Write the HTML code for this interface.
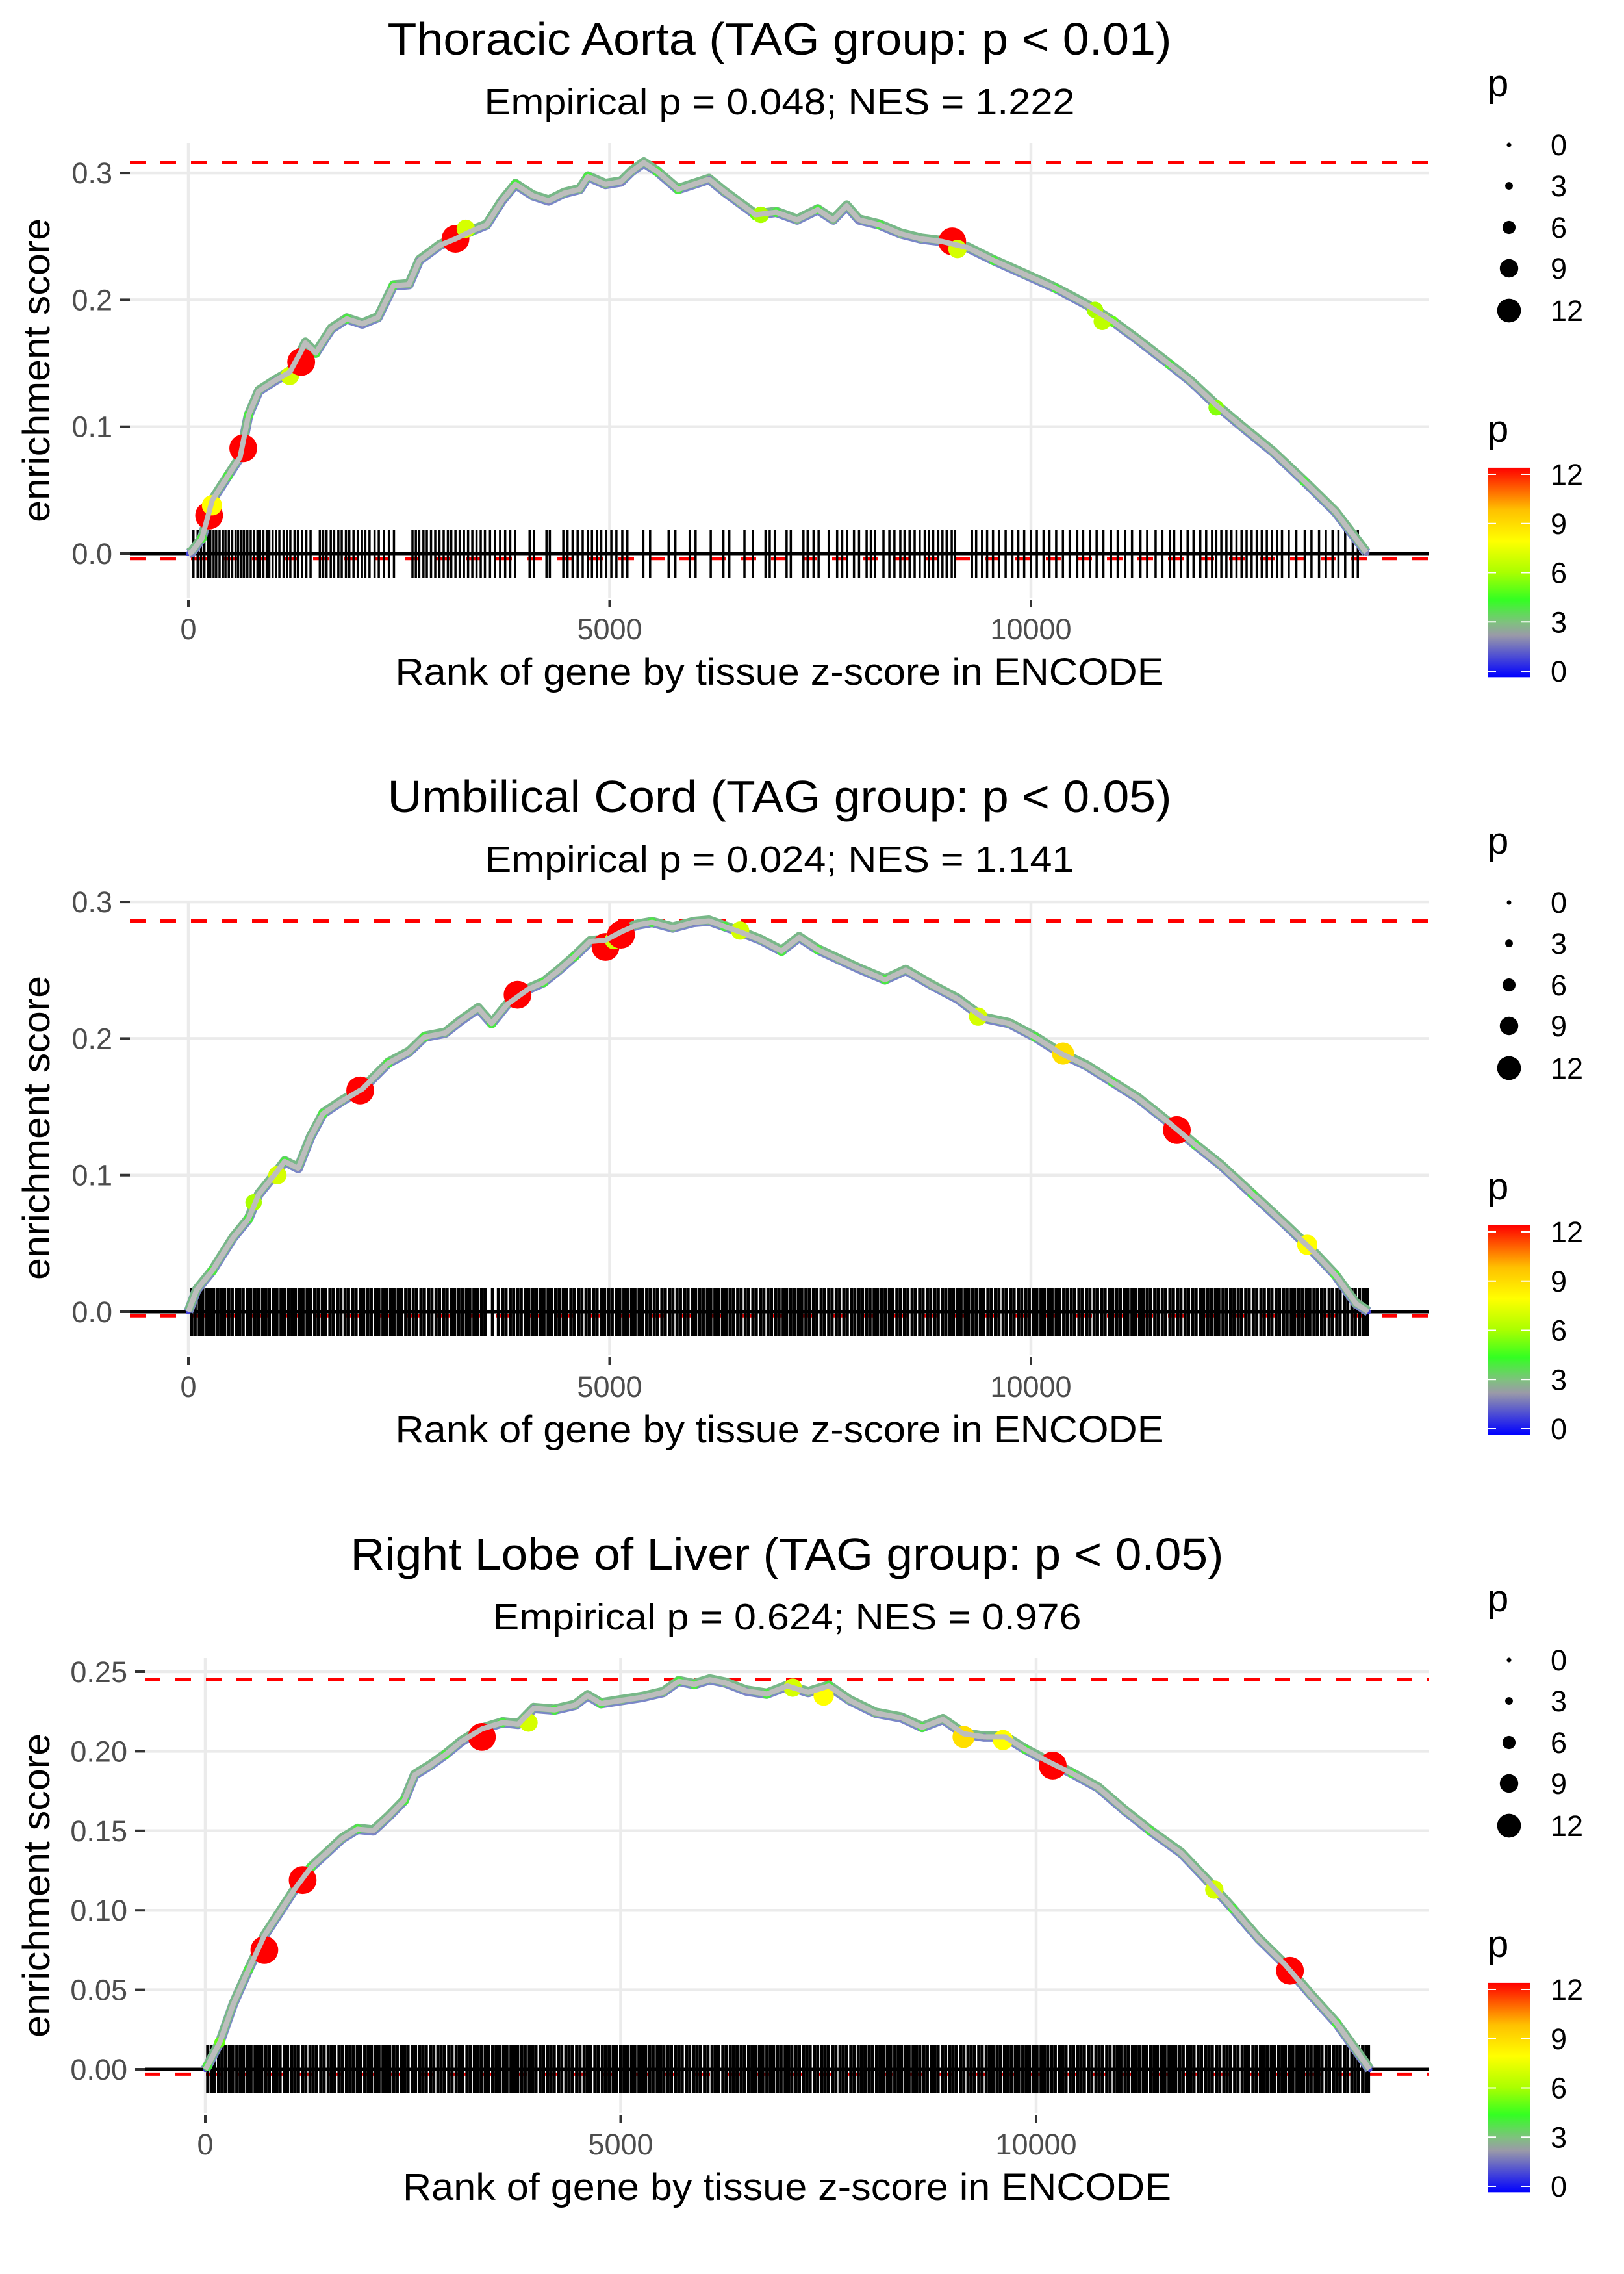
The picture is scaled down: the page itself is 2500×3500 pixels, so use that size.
<!DOCTYPE html>
<html><head><meta charset="utf-8"><title>Enrichment plots</title>
<style>html,body{margin:0;padding:0;background:#fff}svg{display:block}text{font-family:"Liberation Sans",Arial,sans-serif}</style>
</head><body>
<svg id="chart" xmlns="http://www.w3.org/2000/svg" width="2500" height="3500" viewBox="0 0 2500 3500">
<defs>
<linearGradient id="pgrad" x1="0" y1="1" x2="0" y2="0">
<stop offset="0" stop-color="#0000ff"/><stop offset="0.2" stop-color="#9a9aa8"/><stop offset="0.26" stop-color="#80c080"/><stop offset="0.37" stop-color="#33ff22"/><stop offset="0.5" stop-color="#aaff00"/><stop offset="0.65" stop-color="#ffff00"/><stop offset="0.8" stop-color="#ffc000"/><stop offset="1" stop-color="#ff0000"/>
</linearGradient>
</defs>
</svg>
<script>
// ---------- Panel 1 data: Thoracic Aorta ----------
const p1Rank=[0,37,160,283,467,614,713,835,1020,1204,1327,1388,1511,1695,1880,2064,2248,2432,2617,2740,2985,3170,3354,3538,3722,3882,4091,4275,4460,4644,4742,4951,5135,5258,5405,5565,5811,5995,6180,6364,6548,6732,6978,7224,7470,7654,7814,7961,8207,8453,8698,8944,9251,9558,9926,10295,10663,10970,11277,11646,11892,12199,12506,12875,13243,13612,13980];
const p1ES=[0,0.001,0.012,0.042,0.061,0.076,0.109,0.128,0.136,0.143,0.158,0.166,0.158,0.177,0.185,0.181,0.186,0.211,0.212,0.231,0.243,0.248,0.254,0.259,0.278,0.291,0.282,0.278,0.284,0.287,0.297,0.291,0.293,0.301,0.308,0.301,0.287,0.291,0.295,0.285,0.276,0.267,0.269,0.263,0.271,0.263,0.274,0.263,0.259,0.252,0.248,0.246,0.241,0.231,0.220,0.209,0.196,0.183,0.168,0.149,0.136,0.117,0.100,0.080,0.057,0.033,0.001];
const p1P=[1,2,4,3,4,3,4,3,2,3,2,3,4,3,4,2,3,4,3,2,3,3,4,3,2,4,3,2,3,3,4,3,2,3,3,4,4,3,2,3,3,5,4,3,4,3,3,2,4,3,3,4,3,4,3,4,3,5,3,4,3,5,3,3,4,3,2];
const p1HiRank=[246,280,651,1204,1339,3170,3292,6794,9066,9128,10760,10847,12199];
const p1HiES=[0.030,0.038,0.083,0.140,0.151,0.248,0.256,0.267,0.246,0.240,0.192,0.183,0.115];
const p1HiP=[12,8,12,7,12,12,7,6,12,7,6,6.5,5.5];
const p1Rug=[60,110,150,190,230,260,300,330,370,410,440,480,520,560,590,630,660,700,740,780,820,850,890,930,960,1000,1040,1080,1130,1170,1210,1260,1300,1350,1400,1450,1560,1600,1640,1690,1730,1780,1820,1870,1910,1960,2010,2060,2100,2150,2210,2260,2320,2380,2440,2660,2700,2740,2790,2830,2880,2930,2980,3030,3080,3120,3170,3220,3270,3320,3370,3420,3470,3520,3580,3640,3700,3760,3820,3880,4050,4100,4250,4290,4450,4500,4560,4620,4680,4740,4790,4850,4900,4960,5020,5080,5150,5210,5400,5480,5700,5780,5950,6020,6200,6350,6420,6600,6700,6850,6900,6960,7100,7150,7300,7350,7420,7480,7600,7700,7760,7820,7900,7960,8050,8100,8150,8250,8320,8380,8450,8500,8560,8620,8680,8740,8790,8840,8900,8950,9000,9060,9100,9300,9350,9420,9480,9550,9620,9700,9780,9850,9920,10000,10070,10150,10220,10300,10380,10460,10550,10620,10700,10780,10860,10950,11030,11120,11200,11300,11380,11480,11560,11650,11700,11780,11860,11930,12010,12080,12150,12200,12260,12320,12380,12440,12500,12560,12620,12680,12740,12800,12860,12920,12980,13060,13150,13250,13330,13420,13500,13580,13650,13730,13820,13880];
const p1Max=[0.308], p1Min=[-0.004];
const p1YTicks=[0,0.1,0.2,0.3];
const p1YLabels=["0.0","0.1","0.2","0.3"];

// ---------- Panel 2 data: Umbilical Cord ----------
const p2Rank=[0,98,283,528,713,835,1020,1143,1302,1450,1597,1818,2064,2371,2617,2801,3047,3231,3440,3600,3784,4030,4214,4398,4583,4767,4951,5135,5319,5504,5749,5995,6180,6364,6548,6794,7040,7249,7470,7715,7961,8268,8514,8821,9128,9435,9742,10049,10356,10663,10970,11277,11646,11953,12260,12629,12998,13305,13612,13858,14005];
const p2ES=[0,0.016,0.030,0.054,0.068,0.086,0.100,0.110,0.105,0.128,0.145,0.154,0.163,0.182,0.190,0.201,0.204,0.213,0.222,0.211,0.225,0.236,0.241,0.250,0.260,0.271,0.272,0.278,0.283,0.285,0.281,0.285,0.286,0.282,0.278,0.272,0.264,0.274,0.265,0.258,0.251,0.243,0.250,0.239,0.229,0.215,0.211,0.201,0.189,0.180,0.168,0.156,0.138,0.122,0.107,0.086,0.065,0.047,0.027,0.006,0];
const p2P=[1,3,4,3,4,3,3,4,2,3,4,3,2,4,3,4,3,2,3,4,3,2,4,3,4,3,2,3,3,4,3,2,3,4,3,3,4,3,4,3,2,4,3,3,2,3,3,4,3,3,4,3,3,4,3,4,3,3,4,3,1];
const p2HiRank=[774,1057,2039,3907,4951,5050,5135,6548,9374,10381,11732,13280];
const p2HiES=[0.080,0.100,0.162,0.232,0.267,0.272,0.276,0.279,0.216,0.189,0.133,0.049];
const p2HiP=[6,7,12,12,12,7,12,7,7,9,12,8];
const p2Rug=[40,80,130,170,220,260,300,350,390,430,480,520,570,610,650,700,740,790,830,880,920,960,1010,1050,1100,1140,1190,1230,1270,1320,1360,1410,1450,1500,1540,1590,1630,1680,1720,1770,1810,1860,1900,1950,1990,2040,2080,2130,2170,2220,2260,2310,2350,2400,2440,2490,2530,2580,2620,2670,2710,2760,2800,2850,2890,2940,2980,3030,3070,3120,3160,3210,3250,3300,3340,3390,3430,3480,3520,3610,3680,3730,3770,3820,3860,3910,3950,4000,4040,4090,4130,4180,4220,4270,4310,4360,4400,4450,4490,4540,4580,4630,4670,4720,4760,4810,4850,4900,4940,4990,5030,5080,5120,5170,5210,5260,5300,5350,5390,5440,5480,5530,5570,5620,5660,5710,5750,5800,5840,5890,5930,5980,6020,6070,6110,6160,6200,6250,6290,6340,6380,6430,6470,6520,6560,6610,6650,6700,6740,6790,6830,6880,6920,6970,7010,7060,7100,7150,7190,7240,7280,7330,7370,7420,7460,7510,7550,7600,7640,7690,7730,7780,7820,7870,7910,7960,8000,8050,8090,8140,8180,8230,8270,8320,8360,8410,8450,8500,8540,8590,8630,8680,8720,8770,8810,8860,8900,8950,8990,9040,9080,9130,9170,9220,9260,9310,9350,9400,9440,9490,9530,9580,9620,9670,9710,9760,9800,9850,9890,9940,9980,10030,10070,10120,10160,10210,10250,10300,10340,10390,10430,10480,10520,10570,10610,10660,10700,10750,10790,10840,10880,10930,10970,11020,11060,11110,11150,11200,11240,11290,11330,11380,11420,11470,11510,11560,11600,11650,11690,11740,11780,11830,11870,11920,11960,12010,12050,12100,12140,12190,12230,12280,12320,12370,12410,12460,12500,12550,12590,12640,12680,12730,12770,12820,12860,12910,12950,13000,13040,13090,13130,13180,13220,13270,13310,13360,13400,13450,13490,13540,13580,13630,13670,13720,13760,13810,13850,13900,13950,13990];
const p2Max=[0.286], p2Min=[-0.003];
const p2YTicks=[0,0.1,0.2,0.3];
const p2YLabels=["0.0","0.1","0.2","0.3"];

// ---------- Panel 3 data: Right Lobe of Liver ----------
const p3Rank=[0,25,175,337,524,711,898,1085,1272,1459,1646,1833,2020,2207,2394,2519,2706,2893,3080,3329,3579,3766,3953,4202,4451,4601,4763,5012,5262,5511,5698,5885,6072,6259,6509,6758,7007,7257,7506,7755,8067,8379,8628,8878,9127,9377,9626,9875,10125,10436,10748,11060,11372,11746,12057,12369,12681,12993,13304,13616,13865,14015];
const p3ES=[0,0.002,0.017,0.041,0.063,0.084,0.099,0.114,0.127,0.136,0.145,0.151,0.150,0.159,0.169,0.185,0.191,0.198,0.206,0.214,0.218,0.217,0.227,0.226,0.229,0.235,0.230,0.232,0.234,0.237,0.244,0.242,0.245,0.243,0.238,0.236,0.241,0.237,0.241,0.232,0.224,0.221,0.215,0.220,0.211,0.209,0.209,0.201,0.194,0.186,0.177,0.163,0.150,0.136,0.119,0.101,0.082,0.066,0.047,0.029,0.011,0];
const p3P=[1,4,5,3,4,3,3,2,4,3,3,4,2,3,4,3,3,4,2,3,4,3,2,4,3,3,4,3,2,3,4,4,3,3,2,4,3,3,4,3,3,2,4,3,3,2,3,4,3,4,3,3,4,3,3,4,3,4,3,4,3,1];
const p3HiRank=[711,1172,3329,3890,7070,7443,9127,9601,10200,12145,13055];
const p3HiES=[0.075,0.119,0.209,0.218,0.240,0.235,0.209,0.207,0.191,0.113,0.062];
const p3HiP=[12,12,12,7,7,8,9,8,12,7,12];
const p3Rug=[30,75,110,160,200,240,290,330,380,420,460,510,550,600,640,680,730,770,820,860,900,950,990,1040,1080,1120,1170,1210,1260,1300,1340,1390,1430,1480,1520,1560,1610,1650,1700,1740,1780,1830,1870,1920,1960,2000,2050,2090,2140,2180,2220,2270,2310,2360,2400,2440,2490,2530,2580,2620,2660,2710,2750,2800,2840,2880,2930,2970,3020,3060,3100,3150,3190,3240,3280,3320,3370,3410,3460,3500,3540,3590,3630,3680,3720,3760,3810,3850,3900,3940,3980,4030,4070,4120,4160,4200,4250,4290,4340,4380,4420,4470,4510,4560,4600,4640,4690,4730,4780,4820,4860,4910,4950,5000,5040,5080,5130,5170,5220,5260,5300,5350,5390,5440,5480,5520,5570,5610,5660,5700,5740,5790,5830,5880,5920,5960,6010,6050,6100,6140,6180,6230,6270,6320,6360,6400,6450,6490,6540,6580,6620,6670,6710,6760,6800,6840,6890,6930,6980,7020,7060,7110,7150,7200,7240,7280,7330,7370,7420,7460,7500,7550,7590,7640,7680,7720,7770,7810,7860,7900,7940,7990,8030,8080,8120,8160,8210,8250,8300,8340,8380,8430,8470,8520,8560,8600,8650,8690,8740,8780,8820,8870,8910,8960,9000,9040,9090,9130,9180,9220,9260,9310,9350,9400,9440,9480,9530,9570,9620,9660,9700,9750,9790,9840,9880,9920,9970,10010,10060,10100,10140,10190,10230,10280,10320,10360,10410,10450,10500,10540,10580,10630,10670,10720,10760,10800,10850,10890,10940,10980,11020,11070,11110,11160,11200,11240,11290,11330,11380,11420,11460,11510,11550,11600,11640,11680,11730,11770,11820,11860,11900,11950,11990,12040,12080,12120,12170,12210,12260,12300,12340,12390,12430,12480,12520,12560,12610,12650,12700,12740,12780,12830,12870,12920,12960,13000,13050,13090,13140,13180,13220,13270,13310,13360,13400,13440,13490,13530,13580,13620,13660,13710,13750,13800,13840,13880,13930,13970,14000];
const p3Max=[0.245], p3Min=[-0.003];
const p3YTicks=[0,0.05,0.1,0.15,0.2,0.25];
const p3YLabels=["0.00","0.05","0.10","0.15","0.20","0.25"];

const xTicks=[0,5000,10000];
const xTickLabels=["0","5000","10000"];
const sizeLegendValues=[0,3,6,9,12];
const colorLegendValues=[0,3,6,9,12];

const titles=["Thoracic Aorta (TAG group: p < 0.01)","Umbilical Cord (TAG group: p < 0.05)","Right Lobe of Liver (TAG group: p < 0.05)"];
const subtitles=["Empirical p = 0.048; NES = 1.222","Empirical p = 0.024; NES = 1.141","Empirical p = 0.624; NES = 0.976"];

// ---------- rendering ----------
const NS="http://www.w3.org/2000/svg";
const svg=document.getElementById('chart');
function mk(tag,attrs,parent){const e=document.createElementNS(NS,tag);for(const k in attrs)e.setAttribute(k,attrs[k]);(parent||svg).appendChild(e);return e;}
function pColor(p){
  const st=[[0,[0,0,255]],[2.3,[150,150,170]],[3.2,[120,190,130]],[4.4,[51,255,34]],[6,[170,255,0]],[8,[255,255,0]],[10,[255,190,0]],[12,[255,0,0]]];
  if(p<=0)return 'rgb(0,0,255)';
  for(let i=1;i<st.length;i++){if(p<=st[i][0]){const a=st[i-1],b=st[i],t=(p-a[0])/(b[0]-a[0]);const c=a[1].map((v,j)=>Math.round(v+(b[1][j]-v)*t));return `rgb(${c[0]},${c[1]},${c[2]})`;}}
  return 'rgb(255,0,0)';
}
function pRadius(p){return 4+1.45*p;}
const charW=s=>s.length; // helper for nothing

const panels=[
 {rank:p1Rank,es:p1ES,pp:p1P,hr:p1HiRank,he:p1HiES,hp:p1HiP,rug:p1Rug,mx:p1Max,mn:p1Min,yt:p1YTicks,yl:p1YLabels,
  left:200,right:2200,top:220,bottom:920,x0:290,xk:0.1297,y0:852,yk:1953,rugW:3.5,dy:0,tw:1207,sw:909},
 {rank:p2Rank,es:p2ES,pp:p2P,hr:p2HiRank,he:p2HiES,hp:p2HiP,rug:p2Rug,mx:p2Max,mn:p2Min,yt:p2YTicks,yl:p2YLabels,
  left:200,right:2200,top:1386,bottom:2086,x0:290,xk:0.1297,y0:2019,yk:2103,rugW:5,dy:1166,tw:1207,sw:907},
 {rank:p3Rank,es:p3ES,pp:p3P,hr:p3HiRank,he:p3HiES,hp:p3HiP,rug:p3Rug,mx:p3Max,mn:p3Min,yt:p3YTicks,yl:p3YLabels,
  left:223,right:2200,top:2552,bottom:3252,x0:316,xk:0.1279,y0:3185,yk:2448,rugW:5,dy:2332,tw:1344,sw:906}
];

panels.forEach((P,i)=>{
  const xs=r=>P.x0+r*P.xk, ys=v=>P.y0-v*P.yk;
  const g=mk('g',{});
  
  
  const t=mk('text',{x:(P.left+P.right)/2,y:84+P.dy,'text-anchor':'middle','font-size':70,fill:'#000',textLength:P.tw,lengthAdjust:'spacingAndGlyphs'},g);
  t.textContent=titles[i];
  
  
  const st=mk('text',{x:(P.left+P.right)/2,y:176+P.dy,'text-anchor':'middle','font-size':57,fill:'#000',textLength:P.sw,lengthAdjust:'spacingAndGlyphs'},g);
  st.textContent=subtitles[i];
  
  
  P.yt.forEach(v=>{
    const l=mk('line',{x1:P.left,x2:P.right,y1:ys(v),y2:ys(v),stroke:'#ebebeb','stroke-width':4.5},g);
    
    
  });
  xTicks.forEach(v=>{
    const l=mk('line',{x1:xs(v),x2:xs(v),y1:P.top,y2:P.bottom,stroke:'#ebebeb','stroke-width':4.5},g);
    
    
  });
  P.yt.forEach((v,j)=>{
    const tk=mk('line',{x1:P.left-15,x2:P.left,y1:ys(v),y2:ys(v),stroke:'#333','stroke-width':4},g);
    
    
    const tl=mk('text',{x:P.left-27,y:ys(v)+16,'text-anchor':'end','font-size':45,fill:'#4d4d4d'},g);
    tl.textContent=P.yl[j];
    
    
  });
  xTicks.forEach((v,j)=>{
    const tk=mk('line',{x1:xs(v),x2:xs(v),y1:P.bottom+3,y2:P.bottom+15,stroke:'#333','stroke-width':4},g);
    
    
    const tl=mk('text',{x:xs(v),y:984+P.dy,'text-anchor':'middle','font-size':45,fill:'#4d4d4d'},g);
    tl.textContent=xTickLabels[j];
    
    
  });
  const xt=mk('text',{x:(P.left+P.right)/2,y:1054+P.dy,'text-anchor':'middle','font-size':58,fill:'#000',textLength:1183,lengthAdjust:'spacingAndGlyphs'},g);
  xt.textContent='Rank of gene by tissue z-score in ENCODE';
  
  
  const cy=(P.top+P.bottom)/2;
  const yt=mk('text',{x:0,y:0,'text-anchor':'middle','font-size':58,fill:'#000',textLength:468,lengthAdjust:'spacingAndGlyphs',transform:`translate(76,${cy}) rotate(-90)`},g);
  yt.textContent='enrichment score';
  
  
  const dmx=mk('line',{x1:P.left,x2:P.right,y1:ys(P.mx[0]),y2:ys(P.mx[0]),stroke:'#ff0000','stroke-width':5,'stroke-dasharray':'24 23'},g);
  
  
  const dmn=mk('line',{x1:P.left,x2:P.right,y1:ys(P.mn[0]),y2:ys(P.mn[0]),stroke:'#ff0000','stroke-width':5,'stroke-dasharray':'24 23'},g);
  
  
  const z=mk('line',{x1:P.left,x2:P.right,y1:ys(0),y2:ys(0),stroke:'#000','stroke-width':5},g);
  
  
  const rg=mk('g',{},g);
  
  
  P.rug.forEach(r=>{
    const l=mk('line',{x1:xs(r),x2:xs(r),y1:ys(0)-37,y2:ys(0)+37,stroke:'#000','stroke-width':P.rugW},rg);
    
    
  });
  const pts=P.rank.map((r,j)=>xs(r).toFixed(1)+','+ys(P.es[j]).toFixed(1)).join(' ');
  const under=mk('polyline',{points:pts,fill:'none',stroke:'#7a86c8','stroke-width':15,'stroke-linejoin':'round'},g);
  
  
  const under2=mk('polyline',{points:pts,fill:'none',stroke:'#78b888','stroke-width':13,'stroke-linejoin':'round',transform:'translate(0,-2)'},g);
  
  
  P.rank.forEach((r,j)=>{
    const c=mk('circle',{cx:xs(r),cy:ys(P.es[j]),r:pRadius(P.pp[j])*0.75,fill:pColor(P.pp[j])},g);
    
    
  });
  P.hr.forEach((r,j)=>{
    const c=mk('circle',{cx:xs(r),cy:ys(P.he[j]),r:pRadius(P.hp[j]),fill:pColor(P.hp[j])},g);
    
    
  });
  const line=mk('polyline',{points:pts,fill:'none',stroke:'#bdbdbd','stroke-width':8,'stroke-linejoin':'round'},g);
  
  

  const lg=mk('g',{},g);
  
  
  const lp=mk('text',{x:2290,y:148+P.dy,'font-size':58,fill:'#000'},lg);
  lp.textContent='p';
  
  
  const sy=[223,286,350,413,478];
  sizeLegendValues.forEach((v,j)=>{
    const c=mk('circle',{cx:2323,cy:sy[j]+P.dy,r:Math.max(3.5,pRadius(v)*0.95-2),fill:'#000'},lg);
    
    
    const tl=mk('text',{x:2387,y:sy[j]+P.dy+16,'font-size':45,fill:'#000'},lg);
    tl.textContent=String(v);
    
    
  });
  const cg=mk('g',{},g);
  
  
  const cp=mk('text',{x:2290,y:680+P.dy,'font-size':58,fill:'#000'},cg);
  cp.textContent='p';
  
  
  const cs=v=>1033+P.dy-v*25.25;
  const bar=mk('rect',{x:2290,y:cs(12.4),width:65,height:cs(-0.37)-cs(12.4),fill:'url(#pgrad)'},cg);
  
  
  colorLegendValues.forEach(v=>{
    const a=mk('line',{x1:2290,x2:2303,y1:cs(v),y2:cs(v),stroke:'#fff','stroke-width':2},cg);
    
    
    const b=mk('line',{x1:2342,x2:2355,y1:cs(v),y2:cs(v),stroke:'#fff','stroke-width':2},cg);
    
    
    const tl=mk('text',{x:2387,y:cs(v)+16,'font-size':45,fill:'#000'},cg);
    tl.textContent=String(v);
    
    
  });
});
</script>
</body></html>
